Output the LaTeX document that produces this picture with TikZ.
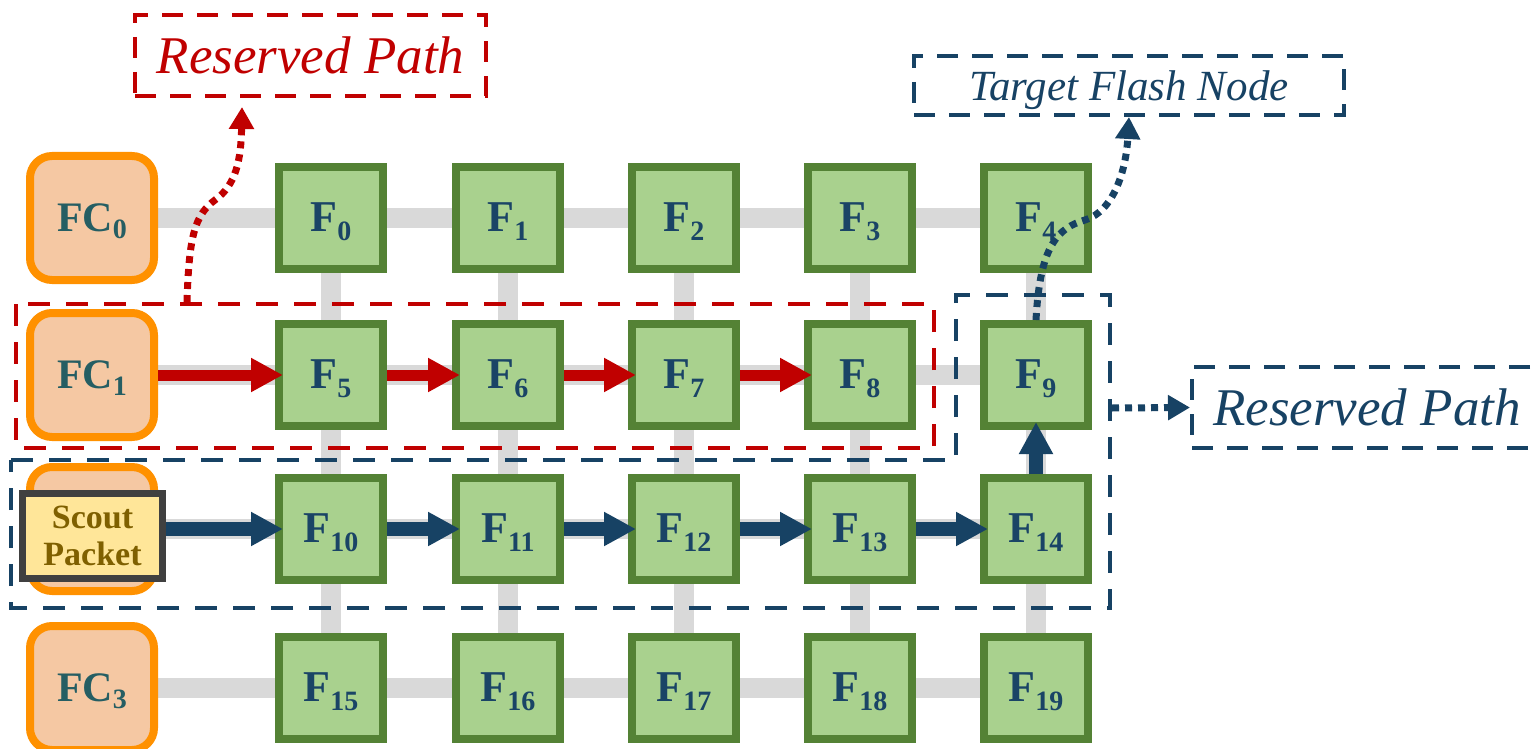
\documentclass[tikz,border=0pt]{standalone}
\usepackage{fontspec}
\setmainfont{Liberation Serif}
\usetikzlibrary{arrows.meta}
\pgfdeclarelayer{bg}
\pgfsetlayers{bg,main}
\definecolor{fgreen}{HTML}{A9D18E}
\definecolor{fgreenb}{HTML}{548235}
\definecolor{fpeach}{HTML}{F5C8A3}
\definecolor{forange}{HTML}{FF9100}
\definecolor{linkgray}{HTML}{D9D9D9}
\definecolor{rred}{HTML}{C00000}
\definecolor{bblue}{HTML}{174264}
\definecolor{tblue}{HTML}{1A4466}
\definecolor{fteal}{HTML}{255E63}
\definecolor{sfill}{HTML}{FFE699}
\definecolor{sborder}{HTML}{404040}
\definecolor{stext}{HTML}{7F6000}
\newcommand\Fsub[1]{F\raisebox{-9pt}{\fontsize{28}{28}\selectfont #1}}
\newcommand\FCsub[1]{FC\raisebox{-7pt}{\fontsize{28}{28}\selectfont #1}}
\begin{document}
\begin{tikzpicture}[x=1pt,y=-1pt,
 fbox/.style={draw=fgreenb, fill=fgreen, line width=8pt, minimum width=104pt, minimum height=102pt, inner sep=0pt, text height=28pt, text depth=2pt, text=tblue, font=\fontsize{44}{44}\selectfont\bfseries},
 fcbox/.style={draw=forange, fill=fpeach, line width=8pt, rounded corners=22pt, minimum width=124pt, minimum height=124pt, inner sep=0pt, text height=28pt, text depth=2pt, text=fteal, font=\fontsize{42}{42}\selectfont\bfseries},
 scoutbox/.style={draw=sborder, fill=sfill, line width=7pt, minimum width=140pt, minimum height=85pt, inner sep=0pt, align=center, text=stext, font=\fontsize{34}{37}\selectfont\bfseries},
 link/.style={draw=linkgray, line width=20pt},
 redarrow/.style={draw=rred, line width=11pt, -{Triangle[length=32pt,width=32pt]}, shorten >=-8pt},
 bluearrow/.style={draw=bblue, line width=14pt, -{Triangle[length=32pt,width=32pt]}, shorten >=-8pt},
 reddash/.style={draw=rred, line width=4pt, dash pattern=on 22pt off 16pt},
 bluedash/.style={draw=bblue, line width=4pt, dash pattern=on 22pt off 16pt},
 reddot/.style={draw=rred, line width=7pt, dash pattern=on 7pt off 6pt, -{Triangle[length=22pt,width=24pt]}},
 bluedot/.style={draw=bblue, line width=7pt, dash pattern=on 7pt off 6pt, -{Triangle[length=22pt,width=24pt]}},
 labelbox/.style={line width=4pt, dash pattern=on 21pt off 14pt, inner sep=0pt}
]
\path[use as bounding box] (0,0) rectangle (1537,749);
\clip (0,0) rectangle (1537,749);

% flash controllers and flash nodes
\foreach \row/\yy in {0/218,1/375,2/529,3/688}{
  \ifnum\row=2
    \node[fcbox] (fc\row) at (92,\yy) {};
  \else
    \node[fcbox] (fc\row) at (92,\yy) {\FCsub{\row}};
  \fi
  \foreach \col/\xx in {0/331,1/508,2/684,3/860,4/1036}{
    \pgfmathtruncatemacro\idx{\row*5+\col}
    \node[fbox] (f\idx) at (\xx,\yy) {\Fsub{\idx}};
  }
}

% links
\begin{pgfonlayer}{bg}
\foreach \row in {0,...,3}{
  \pgfmathtruncatemacro\last{\row*5+4}
  \draw[link] (fc\row.center) -- (f\last.center);
}
\foreach \col in {0,...,4}{
  \pgfmathtruncatemacro\bot{15+\col}
  \draw[link] (f\col.center) -- (f\bot.center);
}
\end{pgfonlayer}

% scout packet
\node[scoutbox] (scout) at (92.5,536) {Scout\\Packet};

% red reserved path
\draw[redarrow] (fc1.east) -- (f5.west);
\foreach \a/\b in {5/6,6/7,7/8}
  \draw[redarrow] (f\a.east) -- (f\b.west);

% blue scout path
\draw[bluearrow] (scout.east |- f10.west) -- (f10.west);
\foreach \a/\b in {10/11,11/12,12/13,13/14}
  \draw[bluearrow] (f\a.east) -- (f\b.west);
\draw[bluearrow] (f14.north) -- (f9.south);

% dashed regions
\draw[reddash] (16,304) rectangle (934,448);
\draw[bluedash] (11,460) -- (956,460) -- (956,295) -- (1110,295) -- (1110,608) -- (11,608) -- cycle;

% label boxes
\node[labelbox, draw=rred, text=rred, minimum width=351pt, minimum height=81pt,
      font=\fontsize{53}{53}\selectfont\itshape] (rlab) at (310.5,55.5) {Reserved Path};
\node[labelbox, draw=bblue, text=bblue, minimum width=430pt, minimum height=59pt, text height=30pt, text depth=0pt,
      font=\fontsize{43}{43}\selectfont\itshape] (tlab) at (1129,85.5) {Target Flash Node};
\node[labelbox, draw=bblue, text=bblue, minimum width=356pt, minimum height=81pt,
      font=\fontsize{53}{53}\selectfont\itshape] (blab) at (1370,407.5) {\hspace*{-6pt}Reserved Path};

% dotted pointers
\coordinate (rdA) at (187,302);
\coordinate (rtip) at (242,107);
\coordinate (rmid) at (215,200);
\draw[reddot] (rdA) .. controls (189,235) and (195,215) .. (rmid) .. controls (236,185) and (241,160) .. (rtip);

\coordinate (bmid) at (1085,220);
\draw[bluedot] (f9.north) .. controls (1040,245) and (1058,228) .. (bmid) .. controls (1114,211) and (1126,170) .. (tlab.south);

\coordinate (bdA) at (1112,408);
\draw[bluedot] (bdA) -- (blab.west);
\end{tikzpicture}
\end{document}
